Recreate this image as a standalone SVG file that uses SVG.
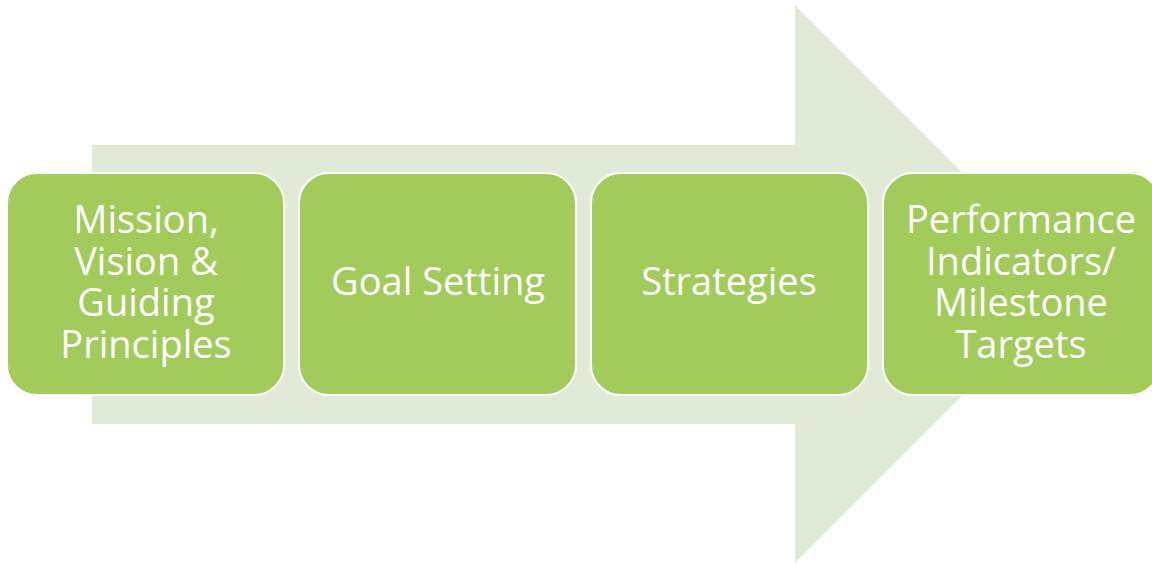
<svg xmlns="http://www.w3.org/2000/svg" width="1152" height="565" viewBox="0 0 1152 565">
<style>
.box{fill:#A3CB5B;stroke:#FFFFFF;stroke-width:2}
.lbl{font-family:"Open Sans","Liberation Sans",sans-serif;font-size:38px;fill:#FFFFFF;text-anchor:middle}
</style>
<rect width="1152" height="565" fill="#FFFFFF"/>
<g id="arrow">
<polygon points="92,145 795,145 795,5 1074,284 795,563 795,424 92,424" fill="#DFEBD6"/>
</g>
<g id="connectors"></g>
<g id="node1">
<rect class="box" x="7" y="173" width="277" height="222" rx="30"/>
<text class="lbl" x="146"><tspan x="146" y="233">Mission,</tspan><tspan x="146" y="275">Vision &amp;</tspan><tspan x="146" y="316">Guiding</tspan><tspan x="146" y="358">Principles</tspan></text>
</g>
<g id="node2">
<rect class="box" x="299" y="173" width="277" height="222" rx="30"/>
<text class="lbl" x="438" y="295">Goal Setting</text>
</g>
<g id="node3">
<rect class="box" x="591" y="173" width="277" height="222" rx="30"/>
<text class="lbl" x="729" y="295">Strategies</text>
</g>
<g id="node4">
<rect class="box" x="883" y="173" width="277" height="222" rx="30"/>
<text class="lbl" x="1021"><tspan x="1021" y="233">Performance</tspan><tspan x="1021" y="275">Indicators/</tspan><tspan x="1021" y="316">Milestone</tspan><tspan x="1021" y="358">Targets</tspan></text>
</g>
</svg>
